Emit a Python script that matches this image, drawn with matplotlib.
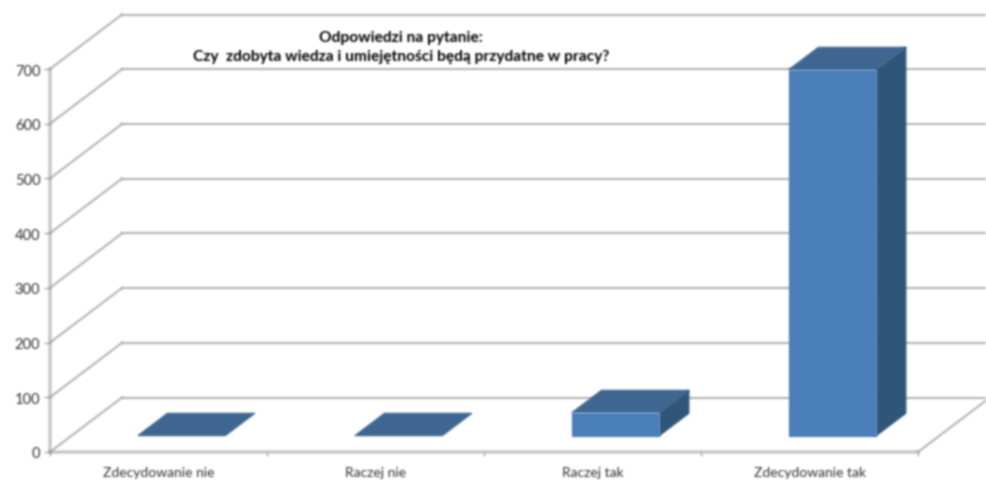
import matplotlib
matplotlib.use('Agg')
import matplotlib.pyplot as plt
from matplotlib.patches import Polygon
from matplotlib.lines import Line2D
from matplotlib.text import Text
import numpy as np

plt.rcParams['font.family'] = ['Lato', 'DejaVu Sans']

categories = ['Zdecydowanie nie', 'Raczej nie', 'Raczej tak', 'Zdecydowanie tak']
values = [0, 0, 42, 669]
y_ticks = [0, 100, 200, 300, 400, 500, 600, 700]
title = 'Odpowiedzi na pytanie:\nCzy  zdobyta wiedza i umiejętności będą przydatne w pracy?'

GRID = '#b4b4b4'
FRONT = '#4a7eb9'
TOP = '#3e6691'
SIDE = '#2f5579'

W, H = 987, 481
fig = plt.figure(figsize=(W / 100, H / 100), dpi=100)
# axes sit on the front plane of the 3d box
ax = fig.add_axes([50 / W, 1 - 453 / H, 868 / W, 383 / H])
ax.set_xlim(0, 4)
ax.set_ylim(0, 700)

# one unit of depth moves this far in data coords
depth_x = 72 / 217
depth_y = 54.5 / (383 / 700)


def proj(x, y, d=0.0):
    return (x + d * depth_x, y + d * depth_y)


def smear(a, kernel):
    a = np.apply_along_axis(np.convolve, 0, a, kernel, mode='same')
    return np.apply_along_axis(np.convolve, 1, a, kernel, mode='same')


def blur(img, dpi, pad=4):
    # the source picture is a soft scan, so smear everything a little
    kernel = np.array([0.06, 0.24, 0.40, 0.24, 0.06])
    out = np.pad(img, ((pad, pad), (pad, pad), (0, 0)))
    alpha = smear(out[:, :, 3], kernel)
    for c in range(3):
        s = smear(out[:, :, c] * out[:, :, 3], kernel)
        out[:, :, c] = np.where(alpha > 1e-4, s / np.maximum(alpha, 1e-4), 0)
    out[:, :, 3] = alpha
    return np.clip(out, 0, 1), -pad, -pad


# side wall and back wall lines
for v in y_ticks:
    ax.plot(*zip(proj(0, v), proj(0, v, 1)), color=GRID, lw=1.5, clip_on=False, zorder=1)
    ax.plot(*zip(proj(0, v, 1), proj(4, v, 1)), color=GRID, lw=1.5, clip_on=False, zorder=1)
ax.plot(*zip(proj(4, 0), proj(4, 0, 1)), color=GRID, lw=1.5, clip_on=False, zorder=1)

# bars, each is three faces; the edges close the seams the blur leaves
bar_w = 0.403
d0, d1 = 0.30, 0.71
for i, v in enumerate(values):
    l = i + 0.507 - bar_w / 2
    r = i + 0.507 + bar_w / 2
    ax.add_patch(Polygon([proj(l, v, d0), proj(r, v, d0), proj(r, v, d1), proj(l, v, d1)],
                         fc=TOP, ec=TOP, lw=0.8, clip_on=False, zorder=3))
    if v > 0:
        ax.add_patch(Polygon([proj(r, 0, d0), proj(r, 0, d1), proj(r, v, d1), proj(r, v, d0)],
                             fc=SIDE, ec=SIDE, lw=0.8, clip_on=False, zorder=3))
        ax.add_patch(Polygon([proj(l, 0, d0), proj(r, 0, d0), proj(r, v, d0), proj(l, v, d0)],
                             fc=FRONT, ec=FRONT, lw=0.8, clip_on=False, zorder=3))

for s in ['top', 'right']:
    ax.spines[s].set_visible(False)
for s in ['left', 'bottom']:
    ax.spines[s].set_color('#9a9a9a')
    ax.spines[s].set_linewidth(1.4)

ax.set_yticks(y_ticks)
ax.set_xticks([0, 1, 2, 3, 4])
ax.set_xticklabels([])
ax.set_xticks([0.5, 1.5, 2.5, 3.5], labels=categories, minor=True)
ax.tick_params(axis='x', which='minor', length=0, pad=10, labelsize=10.0, labelcolor='#303030')
ax.tick_params(axis='x', which='major', length=3, color='#9a9a9a')
ax.tick_params(axis='y', length=4, color='#9a9a9a', labelsize=10.5, labelcolor='#303030', pad=3)

fig.text(401 / W, 1 - 47.5 / H, title, ha='center', va='center', fontsize=11.2,
         fontweight='bold', color='#000000', linespacing=1.45)

for obj in fig.findobj(lambda a: isinstance(a, (Line2D, Polygon, Text)) or a in ax.spines.values()):
    obj.set_agg_filter(blur)

fig.savefig('out.png', dpi=100)
